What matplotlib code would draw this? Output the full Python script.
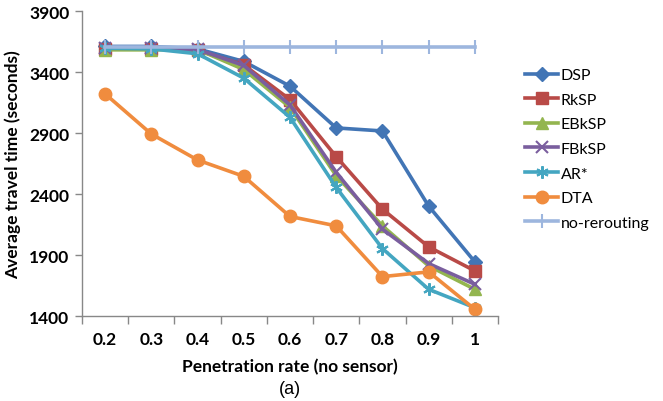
import numpy as np
import matplotlib.pyplot as plt
from matplotlib.ticker import FixedLocator, NullFormatter

plt.rcParams['font.family'] = ['Lato', 'DejaVu Sans']

rates = ['0.2', '0.3', '0.4', '0.5', '0.6', '0.7', '0.8', '0.9', '1']
dsp = [3610, 3610, 3590, 3487, 3284, 2942, 2917, 2301, 1844]
rksp = [3590, 3590, 3577, 3459, 3174, 2706, 2276, 1967, 1770]
ebksp = [3582, 3582, 3585, 3421, 3111, 2550, 2139, 1811, 1619]
fbksp = [3595, 3595, 3585, 3454, 3130, 2578, 2112, 1830, 1660]
arstar = [3596, 3590, 3550, 3350, 3029, 2454, 1953, 1619, 1468]
dta = [3221, 2892, 2679, 2545, 2216, 2139, 1723, 1762, 1455]
norerouting = [3604] * 9

series = [
    ('DSP', dsp, '#4275B5', 'D', 7),
    ('RkSP', rksp, '#B94A47', 's', 8),
    ('EBkSP', ebksp, '#93B54F', '^', 8),
    ('FBkSP', fbksp, '#7A5E9E', 'x', 8),
    ('AR*', arstar, '#44A6C1', (6, 2, 0), 9),
    ('DTA', dta, '#F08C3E', 'o', 9),
    ('no-rerouting', norerouting, '#9DB6DE', '|', 10),
]

fig = plt.figure(figsize=(6.63, 4.02), dpi=100)
ax = fig.add_axes([0.1237, 0.2114, 0.6274, 0.7586])

x = np.arange(len(rates))
for name, vals, col, mk, ms in series:
    ax.plot(x, vals, color=col, lw=2.6, marker=mk, markersize=ms,
            markeredgewidth=1.5 if mk in ('x', '|') or isinstance(mk, tuple) else 1,
            markeredgecolor=col, label=name)

ax.set_xlim(-0.5, len(rates) - 0.5)
ax.set_ylim(1400, 3900)
ax.set_yticks(np.arange(1400, 3901, 500))
ax.set_xticks(x)
ax.set_xticklabels(rates)
ax.xaxis.set_minor_locator(FixedLocator(np.arange(-0.5, len(rates), 1.0)))
ax.xaxis.set_minor_formatter(NullFormatter())
ax.tick_params(axis='x', which='major', length=0, pad=11)
ax.tick_params(axis='x', which='minor', length=6, color='#888888', width=1)
ax.tick_params(axis='y', length=5, color='#888888', width=1, pad=4)
for lbl in ax.get_xticklabels() + ax.get_yticklabels():
    lbl.set_fontsize(12.5)
    lbl.set_fontweight('bold')

for s in ['top', 'right']:
    ax.spines[s].set_visible(False)
for s in ['left', 'bottom']:
    ax.spines[s].set_color('#888888')
    ax.spines[s].set_linewidth(1)

ax.set_xlabel('Penetration rate (no sensor)', fontsize=12.5, fontweight='bold', labelpad=8)
ax.set_ylabel('Average travel time (seconds)', fontsize=12.5, fontweight='bold', labelpad=6)

ax.legend(loc='upper left', bbox_to_anchor=(1.03, 0.86), frameon=False,
          fontsize=11.5, handlelength=2.1, labelspacing=0.65, handletextpad=0.15)

fig.text(0.437, 0.02, '(a)', ha='center', fontsize=13, family=['Liberation Sans', 'DejaVu Sans'])

fig.savefig('out.png', dpi=100)
